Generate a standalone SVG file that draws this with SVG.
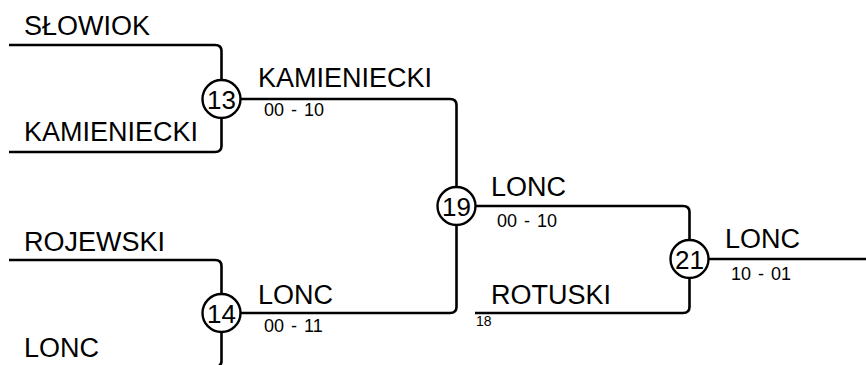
<svg xmlns="http://www.w3.org/2000/svg" width="866" height="365" viewBox="0 0 866 365">
<style>
.ln{fill:none;stroke:#000;stroke-width:2.6;stroke-linejoin:round}
.c{fill:#fff;stroke:#000;stroke-width:2.4}
.nm{font-family:"Liberation Sans",Arial,sans-serif;font-size:27px;fill:#000}
.sc{font-family:"Liberation Sans",Arial,sans-serif;font-size:18px;fill:#000;word-spacing:2px}
.num{font-family:"Liberation Sans",Arial,sans-serif;font-size:26px;fill:#000;text-anchor:middle}
.sm{font-family:"Liberation Sans",Arial,sans-serif;font-size:14px;fill:#000}
</style>
<rect width="866" height="365" fill="#fff"/>
<g id="connectors">
<path class="ln" d="M9,45 H215 Q221.5,45 221.5,51 V80"/>
<path class="ln" d="M9,152 H215 Q221.5,152 221.5,146 V118"/>
<path class="ln" d="M240,99 H450 Q456.5,99 456.5,105 V187"/>
<path class="ln" d="M9,260 H215 Q221.5,260 221.5,266 V294"/>
<path class="ln" d="M221.5,332 V361 Q221.5,367 215,367 H9"/>
<path class="ln" d="M240,313 H450 Q456.5,313 456.5,307 V225"/>
<path class="ln" d="M475,206 H683 Q689.5,206 689.5,212 V240"/>
<path class="ln" d="M475,313 H683 Q689.5,313 689.5,307 V278"/>
<path class="ln" d="M708,259 H866"/>
</g>
<g id="entrants">
<text class="nm" x="24" y="35">SŁOWIOK</text>
<text class="nm" x="24" y="141">KAMIENIECKI</text>
<text class="nm" x="24" y="251">ROJEWSKI</text>
<text class="nm" x="24" y="357">LONC</text>
</g>
<g id="match13">
<circle class="c" cx="221.5" cy="99" r="19"/>
<text class="num" x="221.5" y="108.5">13</text>
<text class="nm" x="258" y="87">KAMIENIECKI</text>
<text class="sc" x="264" y="116">00 - 10</text>
</g>
<g id="match14">
<circle class="c" cx="221.5" cy="313" r="19"/>
<text class="num" x="221.5" y="322.5">14</text>
<text class="nm" x="258" y="304">LONC</text>
<text class="sc" x="264" y="332">00 - 11</text>
</g>
<g id="match19">
<circle class="c" cx="456.5" cy="206" r="19"/>
<text class="num" x="456.5" y="215.5">19</text>
<text class="nm" x="491" y="196">LONC</text>
<text class="sc" x="497" y="227">00 - 10</text>
</g>
<g id="match18">
<text class="nm" x="491" y="304">ROTUSKI</text>
<text class="sm" x="476" y="326">18</text>
</g>
<g id="match21">
<circle class="c" cx="689.5" cy="259" r="19"/>
<text class="num" x="689.5" y="268.5">21</text>
<text class="nm" x="725" y="248">LONC</text>
<text class="sc" x="731" y="280">10 - 01</text>
</g>
</svg>
